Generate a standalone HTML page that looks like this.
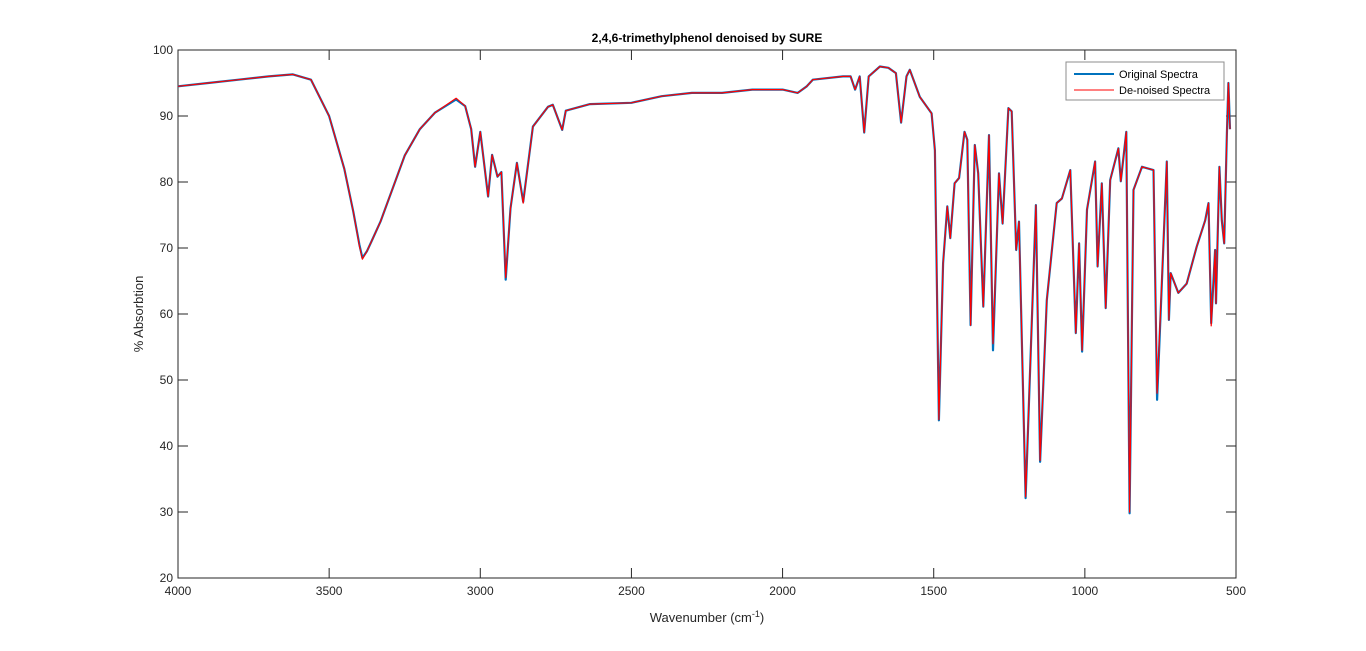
<!DOCTYPE html>
<html><head><meta charset="utf-8"><style>
body{margin:0;background:#fff;}
svg{display:block;font-family:"Liberation Sans",Arial,sans-serif;}
</style></head><body>
<svg id="chart" width="1366" height="651">
<rect x="0" y="0" width="1366" height="651" fill="#fff"/>
<rect x="178" y="50" width="1058" height="528" fill="#fff"/>
<text x="707" y="42" text-anchor="middle" font-size="12" font-weight="bold" fill="#000">2,4,6-trimethylphenol denoised by SURE</text>
<g id="axes"></g>
<g id="series"></g>
<text x="707" y="622" text-anchor="middle" font-size="13" fill="#262626">Wavenumber (cm<tspan dy="-5" font-size="9">-1</tspan><tspan dy="5">)</tspan></text>
<text transform="translate(143,314) rotate(-90)" text-anchor="middle" font-size="13" fill="#262626">% Absorbtion</text>
<g>
<rect x="1066" y="62" width="158" height="38" fill="#fff" stroke="#8c8c8c" stroke-width="1"/>
<line x1="1074" y1="74" x2="1114" y2="74" stroke="#0072BD" stroke-width="2"/>
<text x="1119" y="78" font-size="11" fill="#000">Original Spectra</text>
<line x1="1074" y1="90" x2="1114" y2="90" stroke="#ff0000" stroke-width="1"/>
<text x="1119" y="94" font-size="11" fill="#000">De-noised Spectra</text>
</g>
</svg>
<script>
const wavenumbers=[4000,3900,3800,3700,3620,3560,3500,3450,3420,3400,3390,3375,3360,3330,3290,3250,3200,3150,3080,3050,3030,3017,3000,2974,2961,2943,2930,2916,2900,2879,2858,2826,2776,2760,2729,2717,2637,2500,2400,2300,2200,2100,2000,1950,1920,1900,1800,1775,1760,1745,1730,1715,1678,1650,1625,1608,1590,1579,1546,1507,1496,1483,1469,1455,1445,1431,1416,1398,1389,1378,1364,1353,1336,1317,1304,1284,1272,1253,1242,1227,1218,1196,1162,1148,1126,1093,1076,1048,1030,1019,1009,993,966,958,944,931,916,889,881,863,852,839,811,773,761,729,722,716,691,663,630,602,591,582,569,566,555,547,539,530,525,520];
const originalValues=[94.5,95,95.5,96,96.3,95.5,90,82,75.5,70.5,68.5,69.5,71,74,79,84,88,90.5,92.5,91.5,88,82.3,87.6,77.8,84.1,80.8,81.5,65.2,76,82.9,77,88.4,91.4,91.7,87.9,90.8,91.8,92,93,93.5,93.5,94,94,93.5,94.5,95.5,96,96,94,96,87.5,96,97.5,97.3,96.5,89,96,97,92.9,90.4,84.8,43.9,67.7,76.3,71.5,79.8,80.6,87.6,86.4,58.3,85.6,81.3,61.1,87.1,54.5,81.3,73.7,91.2,90.7,69.7,74,32.1,76.5,37.6,62.1,76.8,77.5,81.8,57.1,70.7,54.3,75.8,83.1,67.2,79.8,60.9,80.3,85.1,80.1,87.6,29.8,78.8,82.3,81.8,47,83.1,59.1,66.2,63.2,64.6,70.2,74.2,76.8,58.6,69.7,61.6,82.3,74.2,70.7,87.4,95,88];
const denoisedValues=[94.5,95,95.5,96,96.3,95.5,90,82,75.5,70.3,68.3,69.5,71,74,79,84,88,90.5,92.7,91.5,88,82.3,87.6,77.8,84.1,80.8,81.5,65.5,76,82.9,76.8,88.4,91.4,91.7,87.9,90.8,91.8,92,93,93.5,93.5,94,94,93.5,94.5,95.5,96,96,94,96,87.5,96,97.5,97.3,96.5,89,96,97,92.9,90.4,84.8,44,67.7,76.3,71.5,79.8,80.6,87.6,86.4,58.3,85.6,81.3,61.1,87.1,55.5,81.3,73.7,91.2,90.7,69.7,74,32.3,76.5,37.8,62.1,76.8,77.5,81.8,57.1,70.7,54.5,75.8,83.1,67.2,79.8,60.9,80.3,85.1,80.1,87.6,30,78.8,82.3,81.8,48,83.1,59.1,66.2,63.2,64.6,70.2,74.2,76.8,58.2,69.7,61.6,82.3,74.2,70.7,87.4,95,88];
const xTicks=[4000,3500,3000,2500,2000,1500,1000,500];
const yTicks=[20,30,40,50,60,70,80,90,100];

const L=178,R=1236,T=50,B=578;
const xs=v=>L+(4000-v)/(4000-500)*(R-L);
const ys=v=>B-(v-20)/(100-20)*(B-T);
const NS='http://www.w3.org/2000/svg';
const axes=document.getElementById('axes');
const series=document.getElementById('series');
function mk(tag,attrs,parent){const e=document.createElementNS(NS,tag);for(const k in attrs)e.setAttribute(k,attrs[k]);parent.appendChild(e);return e;}

xTicks.forEach(t=>{
  const x=xs(t);
  const a=mk('line',{x1:x,y1:B,x2:x,y2:B-10,stroke:'#262626'},axes);
  
  
  const b=mk('line',{x1:x,y1:T,x2:x,y2:T+10,stroke:'#262626'},axes);
  
  
  const tx=mk('text',{x:x,y:B+17,'text-anchor':'middle','font-size':'12',fill:'#262626'},axes);
  tx.textContent=t;
  
  
});
yTicks.forEach(t=>{
  const y=ys(t);
  const a=mk('line',{x1:L,y1:y,x2:L+10,y2:y,stroke:'#262626'},axes);
  
  
  const b=mk('line',{x1:R,y1:y,x2:R-10,y2:y,stroke:'#262626'},axes);
  
  
  const tx=mk('text',{x:L-5,y:y+4,'text-anchor':'end','font-size':'12',fill:'#262626'},axes);
  tx.textContent=t;
  
  
});
const frame=mk('rect',{x:L,y:T,width:R-L,height:B-T,fill:'none',stroke:'#262626'},axes);



function pts(vals){return wavenumbers.map((w,i)=>xs(w).toFixed(1)+','+ys(vals[i]).toFixed(1)).join(' ');}
const p1=mk('polyline',{points:pts(originalValues),fill:'none',stroke:'#0072BD','stroke-width':'2.2','stroke-linejoin':'round'},series);


const p2=mk('polyline',{points:pts(denoisedValues),fill:'none',stroke:'#ff0000','stroke-width':'1.2','stroke-linejoin':'round'},series);


</script>
</body></html>
